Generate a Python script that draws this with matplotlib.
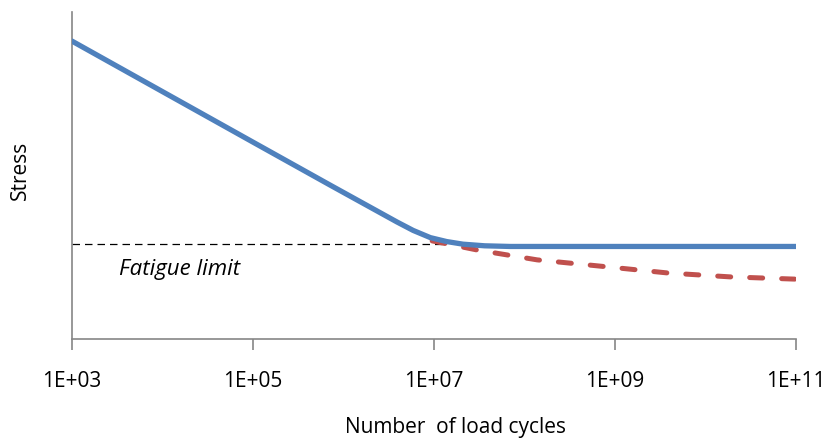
import numpy as np
import matplotlib
matplotlib.use("Agg")
import matplotlib.pyplot as plt

plt.rcParams["font.family"] = ["Open Sans", "DejaVu Sans"]

# S-N curve (stress in arbitrary units, cycles as log10 N)
sn_logn = [3.0, 5.0, 5.85, 6.59, 6.77, 6.96, 7.14, 7.32, 7.56, 7.84, 11.0]
sn_stress = [91.1, 60.2, 47.1, 35.8, 33.2, 31.0, 29.8, 29.0, 28.5, 28.3, 28.3]

# curve without a true endurance limit
decay_logn = [6.98, 7.48, 8.14, 8.83, 9.58, 10.27, 11.0]
decay_stress = [30.0, 27.2, 24.2, 22.3, 20.2, 19.0, 18.3]

fatigue_limit = 29.2
limit_logn = [3.0, 7.1]

xticks = [1e3, 1e5, 1e7, 1e9, 1e11]
xticklabels = ["1E+03", "1E+05", "1E+07", "1E+09", "1E+11"]

fig = plt.figure(figsize=(8.3, 4.38), dpi=100)
ax = fig.add_axes([72 / 830, 99 / 438, 724 / 830, 327 / 438])

ax.plot(10 ** np.array(limit_logn), [fatigue_limit, fatigue_limit], color="black",
        lw=0.9, dashes=(6, 4), zorder=1)
ax.plot(10 ** np.array(decay_logn), decay_stress, color="#C0504D", lw=3.6,
        dashes=(2.6, 3.8), dash_capstyle="round", zorder=2)
ax.plot(10 ** np.array(sn_logn), sn_stress, color="#4F81BD", lw=3.8,
        solid_capstyle="round", solid_joinstyle="round", zorder=3)

ax.text(3.3e3, 21.4, "Fatigue limit", style="italic", fontsize=16,
        ha="left", va="center")

ax.set_xscale("log")
ax.set_xlim(1e3, 1e11)
ax.set_ylim(0, 100)
ax.set_xticks(xticks)
ax.set_xticklabels(xticklabels)
ax.minorticks_off()
ax.set_yticks([])
ax.tick_params(axis="x", length=8, width=1.2, color="#868686", pad=15,
               labelsize=15)

for side in ["top", "right"]:
    ax.spines[side].set_visible(False)
for side in ["left", "bottom"]:
    ax.spines[side].set_color("#868686")
    ax.spines[side].set_linewidth(1.2)

fig.text(455 / 830, 1 - 428 / 438, "Number  of load cycles", fontsize=15,
         ha="center", va="center")
fig.text(20 / 830, 1 - 170 / 438, "Stress", fontsize=15, rotation=90,
         ha="center", va="center")

fig.savefig("out.png", dpi=100)
